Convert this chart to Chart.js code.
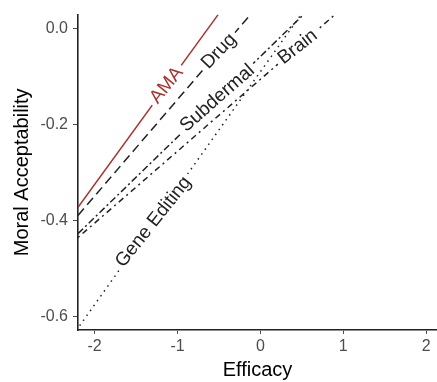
<!DOCTYPE html>
<html>
<head>
<meta charset="utf-8">
<script src="https://cdn.jsdelivr.net/npm/chart.js@4/dist/chart.umd.min.js"></script>
<style>
  html, body { margin: 0; padding: 0; background: #fff; }
  #wrap { width: 437px; height: 382px; }
</style>
</head>
<body>
<div id="wrap"><canvas id="c" width="437" height="382"></canvas></div>
<script>
// ---- data ----
const categories = ['AMA', 'Drug', 'Subdermal', 'Brain', 'Gene Editing'];
const xStart = [-2.2, -2.2, -2.2, -2.2, -2.18];
const yStart = [-0.373, -0.39, -0.428, -0.436, -0.62];
const xEnd   = [-0.51, -0.12, 0.52, 0.9, 0.49];
const yEnd   = [0.029, 0.029, 0.029, 0.029, 0.029];
const labelX = [-1.13, -0.5, -0.52, 0.45, -1.29];
const xTicks = [-2, -1, 0, 1, 2];
const yTicks = [-0.6, -0.4, -0.2, 0.0];

const colors = ['#a8322d', '#222222', '#222222', '#222222', '#222222'];
const dashes = [[], [9, 5], [7, 3, 2, 3], [2, 4, 6, 4], [1.5, 4.5]];
const FONT = '"Liberation Sans", Arial, sans-serif';
const LABEL_SIZE = 19;
const TEXT_TILT = 3 * Math.PI / 180;

const datasets = categories.map((c, i) => ({
  label: c,
  data: [{x: xStart[i], y: yStart[i]}, {x: xEnd[i], y: yEnd[i]}],
  showLine: true,
  borderColor: colors[i],
  borderWidth: 1.5,
  borderDash: dashes[i],
  pointRadius: 0,
  fill: false,
  tension: 0
}));

function labelGeom(chart, i) {
  const xs = chart.scales.x, ys = chart.scales.y;
  const x1 = xs.getPixelForValue(xStart[i]), y1 = ys.getPixelForValue(yStart[i]);
  const x2 = xs.getPixelForValue(xEnd[i]), y2 = ys.getPixelForValue(yEnd[i]);
  const ang = Math.atan2(y2 - y1, x2 - x1) + TEXT_TILT;
  const t = (labelX[i] - xStart[i]) / (xEnd[i] - xStart[i]);
  const cx = x1 + (x2 - x1) * t, cy = y1 + (y2 - y1) * t;
  return {cx, cy, ang};
}

const textPathPlugin = {
  id: 'textPath',
  beforeDatasetDraw(chart, args) {
    const i = args.index;
    const ctx = chart.ctx;
    const g = labelGeom(chart, i);
    ctx.save();
    ctx.font = LABEL_SIZE + 'px ' + FONT;
    const w = ctx.measureText(categories[i]).width + 8;
    const h = 18;
    ctx.beginPath();
    ctx.rect(0, 0, chart.width, chart.height);
    const c = Math.cos(g.ang), s = Math.sin(g.ang);
    const pts = [[-w/2, -h/2], [w/2, -h/2], [w/2, h/2], [-w/2, h/2]].map(p =>
      [g.cx + p[0]*c - p[1]*s, g.cy + p[0]*s + p[1]*c]);
    ctx.moveTo(pts[0][0], pts[0][1]);
    for (let k = 1; k < 4; k++) ctx.lineTo(pts[k][0], pts[k][1]);
    ctx.closePath();
    ctx.clip('evenodd');
  },
  afterDatasetDraw(chart) {
    chart.ctx.restore();
  },
  afterDatasetsDraw(chart) {
    const ctx = chart.ctx;
    categories.forEach((c, i) => {
      const g = labelGeom(chart, i);
      ctx.save();
      ctx.translate(g.cx, g.cy);
      ctx.rotate(g.ang);
      ctx.font = LABEL_SIZE + 'px ' + FONT;
      ctx.fillStyle = colors[i];
      ctx.textAlign = 'center';
      ctx.textBaseline = 'middle';
      ctx.fillText(c, 0, 0);
      ctx.restore();
    });
  }
};

new Chart(document.getElementById('c'), {
  type: 'scatter',
  data: { datasets },
  plugins: [textPathPlugin],
  options: {
    responsive: false,
    animation: false,
    events: [],
    layout: { padding: { left: 0, right: 0, top: 9, bottom: 0 } },
    plugins: { legend: { display: false }, tooltip: { enabled: false } },
    scales: {
      x: {
        type: 'linear',
        min: -2.2,
        max: 2.13,
        afterBuildTicks: (s) => { s.ticks = xTicks.map(v => ({value: v})); },
        afterFit: (s) => { s.height = 52; },
        ticks: { color: '#4d4d4d', font: { family: FONT, size: 16 }, padding: 3,
                 callback: (v) => String(v) },
        grid: { drawOnChartArea: false, drawTicks: true, tickLength: 4, tickColor: '#4d4d4d' },
        border: { display: true, color: '#222', width: 1.6 },
        title: { display: true, text: 'Efficacy', color: '#000',
                 font: { family: FONT, size: 20 }, padding: { top: 0, bottom: 0 } }
      },
      y: {
        type: 'linear',
        min: -0.629,
        max: 0.029,
        afterBuildTicks: (s) => { s.ticks = yTicks.map(v => ({value: v})); },
        afterFit: (s) => { s.width = 78; },
        ticks: { color: '#4d4d4d', font: { family: FONT, size: 16 }, padding: 5,
                 callback: (v) => Number(v).toFixed(1) },
        grid: { drawOnChartArea: false, drawTicks: true, tickLength: 5, tickColor: '#4d4d4d' },
        border: { display: true, color: '#222', width: 1.6 },
        title: { display: true, text: 'Moral Acceptability', color: '#000',
                 font: { family: FONT, size: 20 }, padding: { top: 10, bottom: 0 } }
      }
    }
  }
});
</script>
</body>
</html>
